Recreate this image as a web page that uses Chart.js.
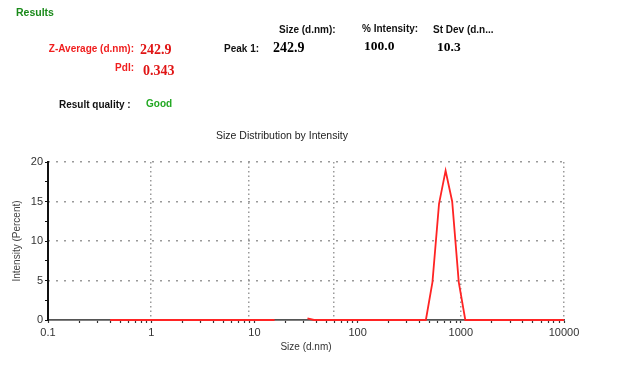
<!DOCTYPE html>
<html><head><meta charset="utf-8">
<script src="https://cdn.jsdelivr.net/npm/chart.js@4/dist/chart.umd.min.js"></script>
<style>
html,body{margin:0;padding:0;background:#fff;width:640px;height:372px;overflow:hidden;}
#wrap{position:relative;width:640px;height:372px;}
canvas{position:absolute;left:0;top:0;}
.t{position:absolute;white-space:nowrap;font-family:"Liberation Sans",Arial,sans-serif;line-height:14px;}
.lab{font-size:10px;font-weight:bold;color:#111;}
.red{color:#f01e1e;}
.val{font-family:"Liberation Serif","Times New Roman",serif;font-weight:bold;font-size:14px;color:#000;}
</style></head>
<body><div id="wrap">
<canvas id="c" width="640" height="372"></canvas>
<div class="t" style="left:16px;top:5px;font-size:10.5px;font-weight:bold;color:#1a8a1a">Results</div>
<div class="t lab red" style="right:506px;top:42px">Z-Average (d.nm):</div>
<div class="t val red" style="left:140px;top:43px;color:#e01515">242.9</div>
<div class="t lab red" style="right:506px;top:61px">PdI:</div>
<div class="t val red" style="left:143px;top:64px;color:#e01515">0.343</div>
<div class="t lab" style="left:224px;top:42px">Peak 1:</div>
<div class="t val" style="left:273px;top:41px">242.9</div>
<div class="t lab" style="left:279px;top:23px">Size (d.nm):</div>
<div class="t lab" style="left:362px;top:22px">% Intensity:</div>
<div class="t lab" style="left:433px;top:23px">St Dev (d.n...</div>
<div class="t val" style="left:364px;top:39px;font-size:13.5px">100.0</div>
<div class="t val" style="left:437px;top:40px;font-size:13.5px">10.3</div>
<div class="t lab" style="left:59px;top:98px">Result quality :</div>
<div class="t lab" style="left:146px;top:97px;color:#22a822">Good</div>
<div class="t" style="left:216px;top:128px;font-size:10.5px;color:#222">Size Distribution by Intensity</div>
</div>
<script>
// Size bins (d.nm)
const sizes = [0.4,0.4632,0.5365,0.6213,0.7195,0.8332,0.9649,1.117,1.294,1.499,
  1.736,2.010,2.328,2.696,3.122,3.615,4.187,4.849,5.615,6.503,
  7.531,8.721,10.10,11.70,13.54,15.69,18.17,21.04,24.36,28.21,
  32.67,37.84,43.82,50.75,58.77,68.06,78.82,91.28,105.7,122.4,
  141.8,164.2,190.1,220.2,255.0,295.3,342.0,396.1,458.7,531.2,
  615.1,712.4,825.0,955.4,1106,1281,1484,1718,1990,2305,
  2669,3091,3580,4145,4801,5560,6439,7456,8635,10000];
// Intensity (Percent)
const intensity = [0,0,0,0,0,0,0,0,0,0,
  0,0,0,0,0,0,0,0,0,0,
  0,0,0,0,0,0,null,null,null,null,
  0.2,0,0,0,0,0,0,0,0,0,
  0,0,0,0,0,0,0,0,0,4.8,
  14.7,18.9,15.0,4.8,0,0,0,0,0,0,
  0,0,0,0,0,0,0,0,0,0];
const xDecadeLabels = [0.1,1,10,100,1000,10000];
const xTickMultiples = [1,2,3,4,5,6,7,8,9];
const xGridValues = [1,8.75,59.3,1000,10000];
const yGridValues = [5,10,15,20];
const yTickStep = 2.5;

const xTickValues = [];
xDecadeLabels.forEach((d,i)=>{
  if(i===xDecadeLabels.length-1){xTickValues.push(d);return;}
  xTickMultiples.forEach(m=>xTickValues.push(+(d*m).toPrecision(6)));
});
const isDecade = v => xDecadeLabels.some(d=>Math.abs(d-v)/d<1e-6);
const points = sizes.map((s,i)=>({x:s,y:intensity[i]}));
const FONT = '"Liberation Sans", Arial, sans-serif';

new Chart(document.getElementById('c'),{
  type:'line',
  data:{datasets:[{data:points,borderColor:'#ff2424',borderWidth:1.8,pointRadius:0,tension:0,spanGaps:false,fill:false,clip:false}]},
  options:{
    responsive:false,animation:false,
    layout:{padding:{left:0,right:76,top:162,bottom:0}},
    plugins:{legend:{display:false},tooltip:{enabled:false},title:{display:false}},
    scales:{
      xg:{type:'logarithmic',position:'bottom',min:0.1,max:10000,
        afterBuildTicks:s=>{s.ticks=xGridValues.map(v=>({value:v}));},
        ticks:{display:false},
        grid:{drawTicks:false,color:'#9a9a9a',lineWidth:1.5},
        border:{display:false,dash:[1.5,3]},
        afterFit:s=>{s.height=0;}},
      yg:{position:'left',min:0,max:20,
        afterBuildTicks:s=>{s.ticks=yGridValues.map(v=>({value:v}));},
        ticks:{display:false},
        grid:{drawTicks:false,color:'#9a9a9a',lineWidth:1.5},
        border:{display:false,dash:[2,6]},
        afterFit:s=>{s.width=0;}},
      x:{type:'logarithmic',position:'bottom',min:0.1,max:10000,
        afterBuildTicks:s=>{s.ticks=xTickValues.map(v=>({value:v}));},
        ticks:{autoSkip:false,maxRotation:0,minRotation:0,padding:3,color:'#333',
          font:{size:11,family:FONT},
          callback:(v)=>isDecade(v)?String(v):''},
        grid:{drawOnChartArea:false,drawTicks:true,tickLength:3,tickColor:'#333',tickWidth:1.2},
        border:{display:true,color:'#555',width:1.8},
        title:{display:true,text:'Size (d.nm)',color:'#333',font:{size:10,family:FONT},padding:{top:0,bottom:19}},
        afterFit:s=>{s.height=52;}},
      y:{position:'left',min:0,max:20,
        ticks:{stepSize:yTickStep,padding:2,color:'#333',font:{size:11,family:FONT},
          callback:(v)=>(v%5===0)?String(v):''},
        grid:{drawOnChartArea:false,drawTicks:true,tickLength:3,tickColor:'#111',tickWidth:1.2},
        border:{display:true,color:'#111',width:2},
        title:{display:true,text:'Intensity (Percent)',color:'#444',font:{size:10,family:FONT},padding:{top:11,bottom:0}},
        afterFit:s=>{s.width=48;}}
    }
  }
});
</script>
</body></html>
